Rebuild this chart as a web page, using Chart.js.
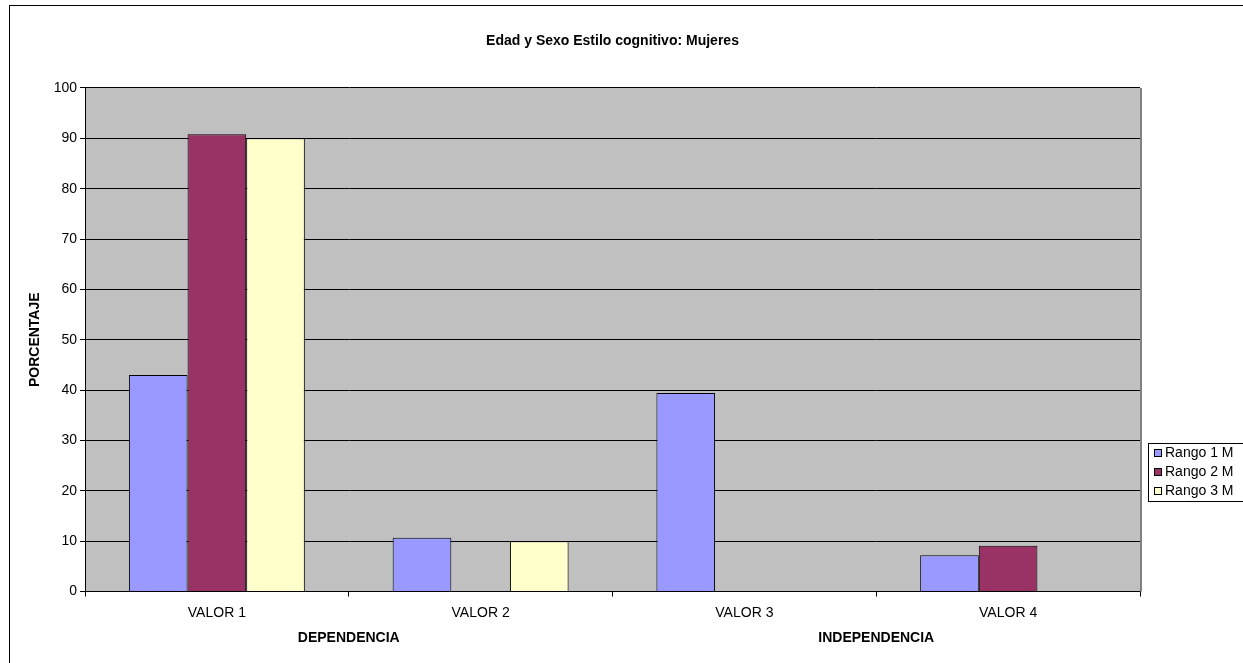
<!DOCTYPE html>
<html>
<head>
<meta charset="utf-8">
<script src="https://cdn.jsdelivr.net/npm/chart.js@4/dist/chart.umd.min.js"></script>
<style>
html,body{margin:0;padding:0;background:#fff;}
#wrap{width:1243px;height:663px;position:relative;}
</style>
</head>
<body>
<div id="wrap"><canvas id="c" width="1243" height="663"></canvas></div>
<script>
const categories = ['VALOR 1', 'VALOR 2', 'VALOR 3', 'VALOR 4'];
const groupLabels = ['DEPENDENCIA', 'INDEPENDENCIA'];
const seriesNames = ['Rango 1 M', 'Rango 2 M', 'Rango 3 M'];
const rango1 = [43.0, 10.7, 39.4, 7.2];
const rango2 = [90.8, 0, 0, 9.1];
const rango3 = [90.0, 10.0, 0, 0];
const seriesColors = ['#9999FF', '#993366', '#FFFFCC'];
const yTicks = [0, 10, 20, 30, 40, 50, 60, 70, 80, 90, 100];

const FONT = "'Liberation Sans', Arial, sans-serif";

const bgPlugin = {
  id: 'bg',
  beforeDraw(chart) {
    const {ctx, chartArea: a} = chart;
    ctx.save();
    ctx.fillStyle = '#fff';
    ctx.fillRect(0, 0, chart.width, chart.height);
    ctx.fillStyle = '#C0C0C0';
    ctx.fillRect(a.left, a.top, a.right - a.left, a.bottom - a.top);
    ctx.restore();
  },
  afterDraw(chart) {
    const {ctx, chartArea: a} = chart;
    ctx.save();
    ctx.strokeStyle = '#808080';
    ctx.lineWidth = 2;
    ctx.beginPath();
    ctx.moveTo(a.right + 1, a.top);
    ctx.lineTo(a.right + 1, a.bottom);
    ctx.stroke();
    ctx.strokeStyle = '#000';
    ctx.lineWidth = 1;
    ctx.strokeRect(9.5, 5.5, 1400, 800);
    const lx = 1148, ly = 443, lh = 58;
    ctx.fillStyle = '#fff';
    ctx.fillRect(lx, ly, 200, lh);
    ctx.strokeStyle = '#000';
    ctx.strokeRect(lx + 0.5, ly + 0.5, 200, lh);
    ctx.font = '14px ' + FONT;
    ctx.textBaseline = 'middle';
    chart.data.datasets.forEach((ds, i) => {
      const cy = ly + 10 + i * 19;
      ctx.fillStyle = ds.backgroundColor;
      ctx.fillRect(lx + 6.5, cy - 3.5, 7, 7);
      ctx.strokeStyle = '#000';
      ctx.strokeRect(lx + 6.5, cy - 3.5, 7, 7);
      ctx.fillStyle = '#000';
      ctx.fillText(ds.label, lx + 17, cy + 0.5);
    });
    ctx.restore();
  }
};

new Chart(document.getElementById('c'), {
  type: 'bar',
  data: {
    labels: categories,
    datasets: [
      {label: seriesNames[0], data: rango1, backgroundColor: seriesColors[0]},
      {label: seriesNames[1], data: rango2, backgroundColor: seriesColors[1]},
      {label: seriesNames[2], data: rango3, backgroundColor: seriesColors[2]}
    ].map(d => Object.assign(d, {borderColor: '#000', borderWidth: 1, categoryPercentage: 0.667, barPercentage: 1.0}))
  },
  options: {
    responsive: false,
    animation: false,
    layout: {padding: {left: 0, right: 103, top: 0, bottom: 11.5}},
    plugins: {
      legend: {display: false},
      tooltip: {enabled: false},
      title: {
        display: true,
        text: 'Edad y Sexo Estilo cognitivo: Mujeres',
        fullSize: false,
        color: '#000',
        font: {family: FONT, size: 14, weight: 'bold'},
        padding: {top: 32.3, bottom: 38.9}
      }
    },
    scales: {
      x: {
        type: 'category',
        position: 'bottom',
        grid: {display: true, offset: true, drawOnChartArea: false, color: '#000', tickLength: 5},
        border: {display: true, color: '#000', width: 1},
        ticks: {color: '#000', font: {family: FONT, size: 14}, padding: 8, maxRotation: 0},
        afterFit(s) { s.height = 34; }
      },
      x2: {
        type: 'category',
        position: 'bottom',
        labels: groupLabels,
        offset: true,
        grid: {display: false, drawTicks: false},
        border: {display: false},
        ticks: {color: '#000', font: {family: FONT, size: 14, weight: 'bold'}, padding: 4, maxRotation: 0},
        afterFit(s) { s.height = 26; }
      },
      y: {
        min: 0,
        max: 100,
        afterBuildTicks(s) { s.ticks = yTicks.map(v => ({value: v})); },
        grid: {color: '#000', tickLength: 5, drawTicks: true},
        border: {display: true, color: '#000', width: 1},
        ticks: {color: '#000', font: {family: FONT, size: 14}, padding: 3},
        title: {display: true, text: 'PORCENTAJE', color: '#000', font: {family: FONT, size: 14, weight: 'bold'}, padding: {top: 26.6, bottom: 0}},
        afterFit(s) { s.width = 85; }
      }
    }
  },
  plugins: [bgPlugin]
});
</script>
</body>
</html>
